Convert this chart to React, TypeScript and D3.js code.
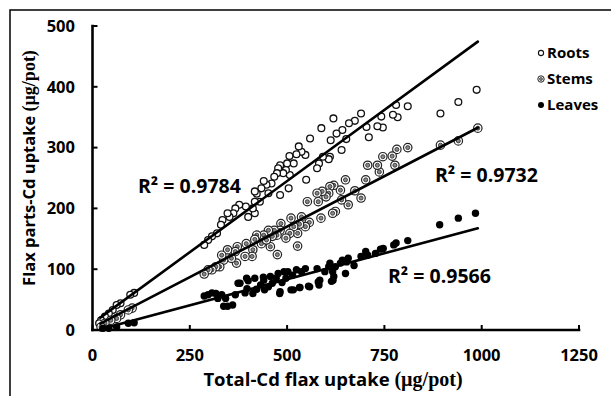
import React from "react";
import * as d3 from "d3";

// [total Cd uptake, part Cd uptake]
const roots: [number, number][] = [
  [987, 395], [940, 375], [894, 356], [810, 368], [784, 350], [772, 354], [780, 370],
  [746, 333], [732, 335], [742, 351], [710, 317], [704, 334], [690, 356], [674, 344],
  [659, 340], [652, 314], [640, 296], [642, 329], [627, 323], [619, 348], [612, 312],
  [610, 285], [607, 281], [588, 332], [592, 285], [582, 274], [577, 266], [559, 315],
  [549, 247], [547, 288], [537, 293], [530, 302], [524, 289], [517, 274], [506, 286],
  [507, 255], [504, 233], [500, 274], [497, 263], [490, 258], [482, 271], [477, 266],
  [474, 258], [482, 222], [467, 252], [460, 241], [452, 225], [447, 239], [440, 245],
  [434, 233], [422, 224], [430, 211], [417, 228], [417, 211], [417, 192], [412, 200],
  [400, 186], [394, 203], [377, 206], [367, 200], [362, 192], [352, 186], [347, 192],
  [334, 181], [330, 173], [320, 159], [307, 154], [297, 148], [287, 140],
  [107, 61], [97, 58], [72, 44], [62, 41], [52, 33], [42, 27], [32, 22], [22, 16], [17, 11],
];

const stems: [number, number][] = [
  [990, 332], [940, 311], [894, 304], [810, 300], [782, 297], [777, 271], [770, 286],
  [746, 285], [737, 260], [732, 271], [707, 271], [702, 247], [690, 217], [674, 229],
  [657, 206], [650, 247], [637, 230], [640, 214], [624, 195], [617, 192], [620, 238],
  [610, 236], [607, 225], [600, 219], [590, 228], [580, 211], [577, 225], [587, 184],
  [552, 211], [557, 177], [547, 170], [537, 186], [532, 174], [527, 159], [527, 138],
  [517, 170], [510, 184], [507, 159], [497, 151], [484, 175], [482, 164], [474, 156],
  [475, 124], [467, 164], [462, 154], [457, 137], [452, 164], [440, 156], [434, 142],
  [447, 148], [422, 156], [417, 149], [412, 132], [410, 121], [395, 142], [392, 121],
  [372, 137], [367, 129], [370, 110], [357, 118], [347, 132], [337, 115], [332, 123],
  [327, 104], [317, 104], [307, 99], [297, 99], [287, 92],
  [102, 36], [92, 33], [72, 25], [62, 19], [47, 16], [32, 11], [22, 5],
];

const leaves: [number, number][] = [
  [984, 192], [940, 184], [892, 173], [810, 147], [780, 143], [774, 140], [747, 134],
  [740, 133], [727, 126], [702, 129], [707, 123], [690, 121], [672, 106], [657, 118],
  [650, 93], [642, 115], [637, 110], [624, 104], [617, 96], [620, 88], [614, 80],
  [610, 110], [607, 104], [597, 96], [584, 82], [582, 74], [577, 101], [555, 72],
  [547, 101], [537, 96], [532, 70], [524, 99], [514, 90], [510, 66], [502, 96],
  [497, 85], [492, 96], [487, 78], [482, 63], [477, 93], [472, 85], [462, 77],
  [457, 88], [452, 71], [442, 66], [440, 82], [432, 74], [422, 67], [417, 85],
  [412, 60], [400, 81], [397, 68], [392, 61], [374, 77], [367, 58], [360, 41],
  [347, 39], [337, 39], [342, 52], [332, 58], [317, 60], [307, 61], [297, 58],
  [287, 56], [322, 52], [379, 77], [396, 85], [439, 87], [653, 112], [618, 82],
  [580, 79], [558, 71], [533, 70], [516, 66], [481, 60],
  [107, 12], [92, 11], [62, 5], [42, 3], [27, 3],
];

// regression fits: [slope, intercept, xStart, xEnd]
const fitRoots = [0.468, 11, 20, 990];
const fitStems = [0.332, 4, 20, 990];
const fitLeaves = [0.171, -2, 20, 990];

const r2Labels = ["R² = 0.9784", "R² = 0.9732", "R² = 0.9566"];
const xTicks = [0, 250, 500, 750, 1000, 1250];
const yTicks = [0, 100, 200, 300, 400, 500];
const legendNames = ["Roots", "Stems", "Leaves"];

const W = 611;
const H = 396;
const FONT = "'Open Sans', 'DejaVu Sans', sans-serif";

export default function App() {
  const x = d3.scaleLinear().domain([0, 1250]).range([92.5, 579]);
  const y = d3.scaleLinear().domain([0, 500]).range([330, 26]);
  const line = d3
    .line<[number, number]>()
    .x((d) => x(d[0]))
    .y((d) => y(d[1]));
  const fitPath = (f: number[]) =>
    line([
      [f[2], f[0] * f[2] + f[1]],
      [f[3], f[0] * f[3] + f[1]],
    ]) as string;

  const rootMark = (cx: number, cy: number, k: string) => (
    <circle key={k} cx={cx} cy={cy} r={3.4} fill="white" stroke="#111" strokeWidth={1.3} />
  );
  const stemMark = (cx: number, cy: number, k: string) => (
    <g key={k}>
      <circle cx={cx} cy={cy} r={4.2} fill="white" stroke="#222" strokeWidth={1.2} />
      <circle cx={cx} cy={cy} r={2} fill="#888" stroke="#333" strokeWidth={0.9} />
    </g>
  );
  const leafMark = (cx: number, cy: number, k: string) => (
    <circle key={k} cx={cx} cy={cy} r={3.7} fill="#000" />
  );

  return (
    <svg
      width={W}
      height={H}
      style={{ position: "absolute", left: 0, top: 0, background: "white" }}
      fontFamily={FONT}
    >
      <rect x={10} y={10} width={700} height={500} fill="white" stroke="#000" strokeWidth={1.5} />

      {/* points */}
      <g>
        {roots.map((d, i) => rootMark(x(d[0]), y(d[1]), "r" + i))}
        {stems.map((d, i) => stemMark(x(d[0]), y(d[1]), "s" + i))}
        {leaves.map((d, i) => leafMark(x(d[0]), y(d[1]), "l" + i))}
      </g>

      {/* fit lines */}
      <g stroke="#000" strokeWidth={2.6} fill="none" strokeLinecap="round">
        <path d={fitPath(fitRoots)} />
        <path d={fitPath(fitStems)} />
        <path d={fitPath(fitLeaves)} />
      </g>

      {/* axes */}
      <g stroke="#000" strokeWidth={2.6} fill="none">
        <line x1={x(0)} x2={x(0)} y1={y(500) - 1.3} y2={y(0) + 1.3} />
        <line x1={x(0) - 1.3} x2={x(1250) + 1.3} y1={y(0)} y2={y(0)} />
      </g>
      <g stroke="#000" strokeWidth={2}>
        {yTicks.map((t) => (
          <line key={"yt" + t} x1={x(0)} x2={x(0) + 5} y1={y(t)} y2={y(t)} />
        ))}
        {xTicks.map((t) => (
          <line key={"xt" + t} x1={x(t)} x2={x(t)} y1={y(0)} y2={y(0) - 5} />
        ))}
      </g>
      <g fontWeight="bold" fontSize={16.5} fill="#000">
        {yTicks.map((t) => (
          <text key={"yl" + t} x={75} y={y(t)} dy="0.35em" textAnchor="end">
            {t}
          </text>
        ))}
        {xTicks.map((t) => (
          <text key={"xl" + t} x={x(t)} y={361} textAnchor="middle">
            {t}
          </text>
        ))}
      </g>

      {/* axis titles */}
      <text x={333} y={386} textAnchor="middle" fontWeight="bold" fontSize={18.5}>
        Total-Cd flax uptake{" "}
        <tspan fontFamily="'Liberation Serif', serif" fontSize={20}>(µg/pot)</tspan>
      </text>
      <text
        transform="translate(35,168) rotate(-90)"
        textAnchor="middle"
        fontWeight="bold"
        fontSize={16.5}
      >
        Flax parts-Cd uptake{" "}
        <tspan fontFamily="'Liberation Serif', serif" fontSize={18}>(µg/pot)</tspan>
      </text>

      {/* R² labels */}
      <g fontWeight="bold" fontSize={19.5}>
        <text x={138} y={193}>{r2Labels[0]}</text>
        <text x={435} y={182}>{r2Labels[1]}</text>
        <text x={388} y={283}>{r2Labels[2]}</text>
      </g>

      {/* legend */}
      <g fontWeight="bold" fontSize={15}>
        {legendNames.map((n, i) => {
          const ly = 53 + i * 26;
          const mk =
            i === 0
              ? <circle cx={541} cy={ly} r={2.6} fill="white" stroke="#111" strokeWidth={1.1} />
              : i === 1
              ? (
                <g>
                  <circle cx={541} cy={ly} r={3.2} fill="white" stroke="#222" strokeWidth={1} />
                  <circle cx={541} cy={ly} r={1.5} fill="#888" stroke="#333" strokeWidth={0.7} />
                </g>
              )
              : <circle cx={541} cy={ly} r={3} fill="#000" />;
          return (
            <g key={n}>
              {mk}
              <text x={547} y={ly} dy="0.35em">{n}</text>
            </g>
          );
        })}
      </g>
    </svg>
  );
}
